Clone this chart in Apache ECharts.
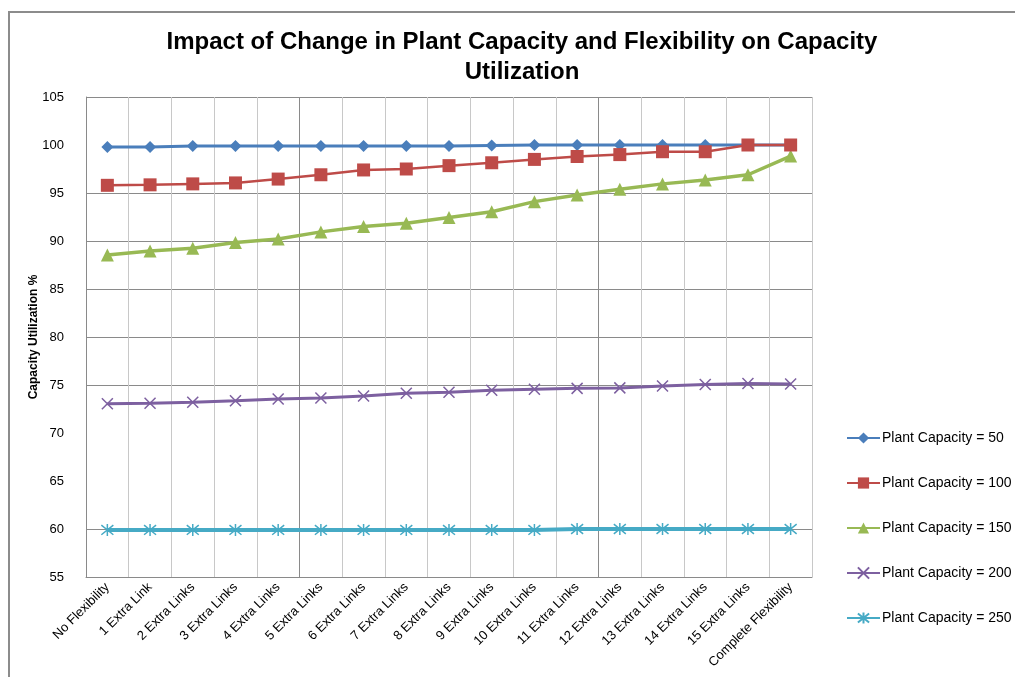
<!DOCTYPE html>
<html>
<head>
<meta charset="utf-8">
<script src="https://cdn.jsdelivr.net/npm/echarts@6/dist/echarts.min.js"></script>
<style>
html,body{margin:0;padding:0;background:#fff;}
#chart{width:1015px;height:677px;}
</style>
</head>
<body>
<div id="chart"></div>
<script>
var categories = ['No Flexibility','1 Extra Link','2 Extra Links','3 Extra Links','4 Extra Links','5 Extra Links','6 Extra Links','7 Extra Links','8 Extra Links','9 Extra Links','10 Extra Links','11 Extra Links','12 Extra Links','13 Extra Links','14 Extra Links','15 Extra Links','Complete Flexibility'];
var seriesNames = ['Plant Capacity = 50','Plant Capacity = 100','Plant Capacity = 150','Plant Capacity = 200','Plant Capacity = 250'];
var cap50  = [99.8,99.8,99.9,99.9,99.9,99.9,99.9,99.9,99.9,99.95,100,100,100,100,100,100,100];
var cap100 = [95.8,95.85,95.95,96.05,96.45,96.9,97.4,97.5,97.85,98.15,98.5,98.8,99.0,99.3,99.3,100,100];
var cap150 = [88.55,88.95,89.25,89.85,90.2,90.95,91.5,91.85,92.45,93.05,94.1,94.8,95.4,95.95,96.35,96.9,98.85];
var cap200 = [73.05,73.1,73.2,73.35,73.55,73.65,73.85,74.15,74.25,74.45,74.55,74.65,74.7,74.9,75.05,75.15,75.1];
var cap250 = [59.9,59.9,59.9,59.9,59.9,59.9,59.9,59.9,59.9,59.9,59.9,60,60,60,60,60,60];
var yTicks = {min:55, max:105, interval:5};

var chart = echarts.init(document.getElementById('chart'));

var xSplitColors = [];
for (var i = 0; i <= categories.length; i++) {
  xSplitColors.push((i === 5 || i === 12) ? '#8a8a8a' : '#c8c8c8');
}
// horizontal grid lines (55..105)
var ySplitColors = ['#8a8a8a','#8a8a8a','rgba(0,0,0,0)','rgba(0,0,0,0)','#8a8a8a','#8a8a8a','#8a8a8a','#8a8a8a','#8a8a8a','rgba(0,0,0,0)','#8a8a8a'];

var xPath = 'path://M0,0L10,10M10,0L0,10';
var starPath = 'path://M1,1L9,9M9,1L1,9M5,0L5,10';

var option = {
  backgroundColor: '#fff',
  animation: false,
  textStyle: {fontFamily: 'Liberation Sans, Arial, sans-serif'},
  title: {
    text: 'Impact of Change in Plant Capacity and Flexibility on Capacity\nUtilization',
    left: 517,
    top: 22,
    textAlign: 'center',
    textStyle: {fontSize: 24, fontWeight: 'bold', color: '#000', lineHeight: 30, fontFamily: 'Liberation Sans, Arial, sans-serif'}
  },
  graphic: [{
    type: 'rect',
    shape: {x: 9, y: 12, width: 1200, height: 900},
    style: {fill: 'none', stroke: '#8c8c8c', lineWidth: 2},
    silent: true, z: -10
  }],
  legend: {
    data: seriesNames,
    orient: 'vertical',
    left: 841,
    top: 426,
    itemWidth: 33,
    itemHeight: 14,
    itemGap: 31,
    textStyle: {fontSize: 14, color: '#000', padding: [0, 0, 0, -3]}
  },
  grid: {left: 86, right: 203, top: 97, bottom: 100, show: false},
  xAxis: {
    type: 'category',
    data: categories,
    boundaryGap: true,
    axisLine: {show: true, lineStyle: {color: '#8a8a8a', width: 1}},
    axisTick: {show: false},
    axisLabel: {rotate: 45, fontSize: 13, color: '#000', margin: 8, interval: 0},
    splitLine: {show: true, interval: 0, lineStyle: {color: xSplitColors, width: 1}}
  },
  yAxis: {
    type: 'value',
    min: yTicks.min, max: yTicks.max, interval: yTicks.interval,
    name: 'Capacity Utilization %',
    nameLocation: 'middle',
    nameGap: 46,
    nameMoveOverlap: false,
    nameTextStyle: {fontSize: 12, fontWeight: 'bold', color: '#000'},
    axisLine: {show: true, lineStyle: {color: '#8a8a8a', width: 1}},
    axisTick: {show: false},
    axisLabel: {fontSize: 13, color: '#000', margin: 22},
    splitLine: {show: true, lineStyle: {color: ySplitColors, width: 1}}
  },
  series: [
    {name: seriesNames[0], type: 'line', data: cap50, symbol: 'diamond', symbolSize: 12,
     lineStyle: {color: '#4a7ebb', width: 3}, itemStyle: {color: '#4a7ebb'}, z: 6},
    {name: seriesNames[1], type: 'line', data: cap100, symbol: 'rect', symbolSize: 13,
     lineStyle: {color: '#be4b48', width: 2.5}, itemStyle: {color: '#be4b48'}, z: 7},
    {name: seriesNames[2], type: 'line', data: cap150, symbol: 'triangle', symbolSize: 13,
     lineStyle: {color: '#98b954', width: 3.5}, itemStyle: {color: '#98b954'}, z: 5},
    {name: seriesNames[3], type: 'line', data: cap200, symbol: xPath, symbolSize: 11,
     lineStyle: {color: '#7d60a0', width: 3}, itemStyle: {color: '#7d60a0', borderColor: '#7d60a0', borderWidth: 1.5}, z: 4},
    {name: seriesNames[4], type: 'line', data: cap250, symbol: starPath, symbolSize: 12,
     lineStyle: {color: '#46aac5', width: 4}, itemStyle: {color: '#46aac5', borderColor: '#46aac5', borderWidth: 1.5}, z: 3}
  ]
};
chart.setOption(option);
</script>
</body>
</html>
